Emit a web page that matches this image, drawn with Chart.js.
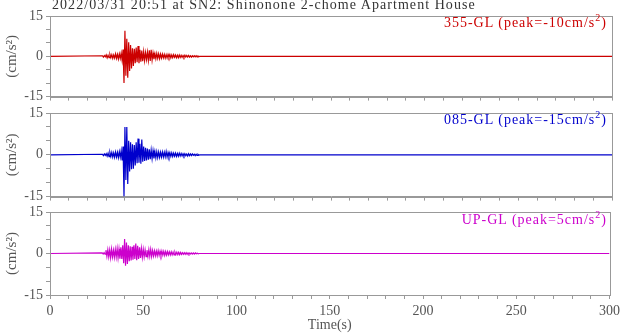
<!DOCTYPE html>
<html lang="en">
<head>
<meta charset="UTF-8">
<title>SN2 acceleration records</title>
<script src="https://cdn.jsdelivr.net/npm/chart.js@4"></script>
<style>
    body { margin: 0; background: #fff; }
    #wrap { position: relative; width: 624px; height: 334px; overflow: hidden; font-family: 'Liberation Serif', serif; }
    canvas { position: absolute; left: 0; }
    .title { position: absolute; left: 52px; top: -2px; font-size: 14px; line-height: 14px; color: #333; letter-spacing: 1.05px; white-space: nowrap; }
    .lab { position: absolute; right: 17px; font-size: 14px; line-height: 16px; white-space: nowrap; letter-spacing: 1px; }
    .lab sup { font-size: 10px; vertical-align: 6px; line-height: 0; }
</style>
</head>
<body>
<div id="wrap">
    <canvas id="c1"></canvas>
    <canvas id="c2"></canvas>
    <canvas id="c3"></canvas>
    <div class="title">2022/03/31 20:51 at SN2: Shinonone 2-chome Apartment House</div>
    <div class="lab" style="top:15px;color:#cc0000">355-GL (peak=-10cm/s<sup>2</sup>)</div>
    <div class="lab" style="top:112px;color:#0000cc">085-GL (peak=-15cm/s<sup>2</sup>)</div>
    <div class="lab" style="top:212px;color:#cc00cc">UP-GL (peak=5cm/s<sup>2</sup>)</div>
</div>
<script>
// samples start at 28 s, every 0.5 s, flat zero outside
const t0 = 28;
const dt = 0.5;

const ns = [
    0.2, -0.3, 0.3, -0.2, 0.5, -0.6, 0.4, -0.5, 0.7, -0.5,
    0.6, -0.8, 0.5, -0.7, 0.9, -0.8, 0.7, -1.0, 0.9, -0.8,
    1.2, -1.5, 2.5, -9.9, 9.5, -7.2, 6.5, -8.0, 5.2, -5.5,
    4.2, -4.5, 3.0, -3.6, 2.8, -2.6, 3.3, -2.2, 3.8, -2.6,
    2.4, -2.0, 2.1, -1.8, 1.7, -1.6, 1.4, -1.2, 1.6, -1.5,
    2.2, -1.7, 2.4, -1.4, 1.3, -1.1, 1.0, -0.9, 1.1, -0.8,
    0.9, -0.9, 0.8, -0.7, 0.8, -0.6, 0.7, -0.7, 0.6, -0.6,
    0.7, -0.5, 0.6, -0.6, 0.5, -0.5, 0.6, -0.4, 0.5, -0.5,
    0.4, -0.5, 0.5, -0.4, 0.4, -0.4, 0.3, -0.4, 0.4, -0.3,
    0.3, -0.3, 0.3, -0.3, 0.2, -0.3, 0.2, -0.2, 0.2, -0.2,
    0.2, -0.2, 0.1, -0.1, 0
];

const ew = [
    0.2, -0.3, 0.3, -0.2, 0.4, -0.5, 0.6, -0.7, 0.8, -0.6,
    0.9, -0.8, 0.7, -0.9, 1.0, -0.8, 0.9, -1.0, 1.1, -0.9,
    1.5, -2.0, 3.0, -15.0, 10.0, -9.0, 10.0, -10.5, 5.0, -6.0,
    4.5, -5.2, 3.8, -5.0, 3.5, -3.8, 4.5, -3.0, 5.8, -2.8,
    4.0, -3.2, 5.5, -2.5, 3.0, -2.2, 2.5, -2.0, 2.2, -1.8,
    2.0, -1.6, 1.7, -1.4, 1.5, -1.3, 1.2, -1.1, 1.1, -1.0,
    1.0, -0.9, 0.9, -0.8, 1.0, -0.8, 0.9, -0.7, 1.2, -0.8,
    0.8, -0.7, 0.7, -0.6, 0.7, -0.6, 0.6, -0.5, 0.6, -0.6,
    0.5, -0.5, 0.6, -0.4, 0.5, -0.4, 0.4, -0.4, 0.4, -0.3,
    0.3, -0.4, 0.4, -0.3, 0.3, -0.3, 0.3, -0.2, 0.2, -0.3,
    0.2, -0.2, 0.2, -0.1, 0
];

const ud = [
    0.2, -0.2, 0.3, -0.2, 1.2, -1.0, 1.4, -1.2, 1.3, -1.5,
    1.6, -1.2, 1.2, -1.4, 1.5, -1.3, 1.8, -1.6, 1.6, -1.9,
    2.2, -2.0, 3.0, -3.5, 5.2, -4.4, 4.0, -3.8, 3.0, -2.8,
    2.6, -2.5, 2.4, -2.2, 3.0, -2.0, 3.6, -2.4, 2.8, -2.0,
    2.2, -1.6, 1.8, -1.4, 1.5, -1.2, 1.3, -1.1, 1.2, -1.0,
    1.4, -1.0, 1.5, -1.1, 1.1, -0.9, 1.0, -0.8, 0.9, -0.8,
    1.0, -0.7, 0.8, -0.7, 0.9, -0.6, 0.8, -0.7, 0.7, -0.6,
    0.7, -0.5, 0.6, -0.5, 0.6, -0.5, 0.5, -0.5, 0.5, -0.4,
    0.5, -0.4, 0.4, -0.4, 0.4, -0.3, 0.3, -0.3, 0.3, -0.3,
    0.3, -0.3, 0.2, -0.3, 0.2, -0.2, 0.2, -0.2, 0.2, -0.2,
    0.2, -0.1, 0.1, -0.1, 0
];

const yTicks = [-15, 0, 15];
const xLabelEvery = 50;

Chart.defaults.font.family = "'Liberation Serif', serif";
Chart.defaults.font.size = 14;
Chart.defaults.color = '#555';

// box around each plot area
const frame = {
    id: 'frame',
    afterDraw(chart) {
        const a = chart.chartArea;
        const ctx = chart.ctx;
        ctx.save();
        ctx.strokeStyle = '#999';
        ctx.lineWidth = 1;
        ctx.strokeRect(Math.round(a.left) + 0.5, Math.round(a.top) + 0.5, Math.round(a.right - a.left), Math.round(a.bottom - a.top));
        ctx.restore();
    }
};

function toPoints(vals) {
    const pts = [{ x: 0, y: 0 }];
    vals.forEach((v, i) => pts.push({ x: t0 + i * dt, y: v }));
    pts.push({ x: 300, y: 0 });
    return pts;
}

function makePanel(id, top, height, padTop, xHeight, vals, color, lastPanel) {
    const cv = document.getElementById(id);
    cv.style.top = top + 'px';
    cv.width = 624;
    cv.height = height;
    cv.style.width = '624px';
    cv.style.height = height + 'px';
    return new Chart(cv.getContext('2d'), {
        type: 'line',
        data: {
            datasets: [{
                data: toPoints(vals),
                borderColor: color,
                borderWidth: 1.2,
                pointRadius: 0,
                tension: 0
            }]
        },
        options: {
            responsive: false,
            animation: false,
            events: [],
            layout: { padding: { top: padTop, right: 12, left: 0, bottom: 0 } },
            plugins: { legend: { display: false }, tooltip: { enabled: false } },
            scales: {
                x: {
                    type: 'linear',
                    min: 0,
                    max: 300,
                    afterFit: s => { s.height = xHeight; },
                    grid: { drawOnChartArea: false, tickLength: 4, color: '#999' },
                    border: { display: true, color: '#999' },
                    ticks: {
                        stepSize: 10,
                        autoSkip: false,
                        maxRotation: 0,
                        padding: 4,
                        callback: v => (lastPanel && v % xLabelEvery === 0) ? String(v) : ''
                    },
                    title: {
                        display: lastPanel,
                        text: 'Time(s)',
                        padding: { top: 0, bottom: 0 }
                    }
                },
                y: {
                    min: -15,
                    max: 15,
                    afterFit: s => { s.width = 50; },
                    grid: { drawOnChartArea: false, tickLength: 4, color: '#999' },
                    border: { display: true, color: '#999' },
                    ticks: {
                        stepSize: 5,
                        autoSkip: false,
                        padding: 3,
                        callback: v => yTicks.includes(v) ? String(v) : ''
                    },
                    title: { display: true, text: '(cm/s²)', font: { size: 15 }, padding: { top: 3, bottom: 0 } }
                }
            }
        },
        plugins: [frame]
    });
}

makePanel('c1', 0, 108, 16, 10, ns, '#cc0000', false);
makePanel('c2', 100, 108, 13, 11, ew, '#0000cc', false);
makePanel('c3', 200, 134, 12, 39, ud, '#cc00cc', true);
</script>
</body>
</html>
